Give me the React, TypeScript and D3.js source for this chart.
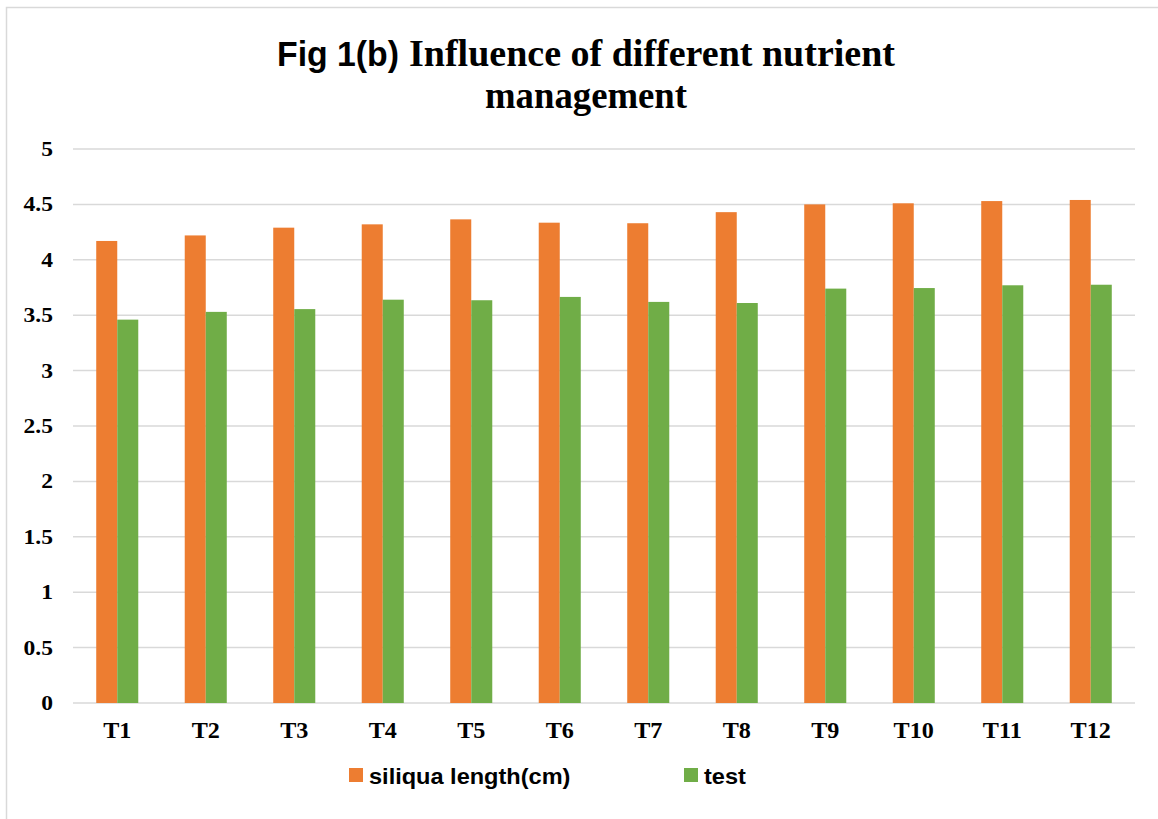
import React, { useEffect, useRef } from 'react';
import * as d3 from 'd3';

const categories = ['T1', 'T2', 'T3', 'T4', 'T5', 'T6', 'T7', 'T8', 'T9', 'T10', 'T11', 'T12'];
const siliquaLength = [4.17, 4.22, 4.29, 4.32, 4.365, 4.335, 4.33, 4.43, 4.5, 4.51, 4.53, 4.54];
const testValues = [3.46, 3.53, 3.555, 3.64, 3.635, 3.665, 3.62, 3.61, 3.74, 3.745, 3.77, 3.775];
const yTicks = [0, 0.5, 1, 1.5, 2, 2.5, 3, 3.5, 4, 4.5, 5];
const seriesNames = ['siliqua length(cm)', 'test'];
const seriesColors = ['#ED7D31', '#70AD47'];

const SERIF = '"Liberation Serif", "Times New Roman", serif';
const SANS = '"Liberation Sans", Arial, sans-serif';

// stretch text horizontally by a factor, keeping its anchor
function stretch(sel: d3.Selection<SVGTextElement, any, any, any>, factor: number) {
  sel.each(function () {
    const len = this.getComputedTextLength();
    d3.select(this)
      .attr('textLength', len * factor)
      .attr('lengthAdjust', 'spacingAndGlyphs');
  });
}

const App: React.FC = () => {
  const svgRef = useRef<SVGSVGElement>(null);

  useEffect(() => {
    if (!svgRef.current) return;

    const width = 1158;
    const height = 819;
    const margin = { top: 149, right: 23, bottom: 116, left: 73 };

    const svg = d3.select(svgRef.current);
    svg.selectAll('*').remove();
    svg.attr('width', width).attr('height', height);

    svg.append('rect').attr('width', width).attr('height', height).attr('fill', '#fff');

    // chart area border (only top / left edges visible in the frame)
    svg
      .append('rect')
      .attr('x', 6.5)
      .attr('y', 7.5)
      .attr('width', width + 20)
      .attr('height', height + 20)
      .attr('fill', 'none')
      .attr('stroke', '#d9d9d9')
      .attr('stroke-width', 1.5);

    const x0 = d3
      .scaleBand<string>()
      .domain(categories)
      .range([margin.left, width - margin.right])
      .paddingInner(0.525)
      .paddingOuter(0.2625);

    const x1 = d3.scaleBand<number>().domain([0, 1]).range([0, x0.bandwidth()]);

    const y = d3
      .scaleLinear()
      .domain([0, 5])
      .range([height - margin.bottom, margin.top]);

    // gridlines
    svg
      .append('g')
      .selectAll('line')
      .data(yTicks)
      .enter()
      .append('line')
      .attr('x1', margin.left)
      .attr('x2', width - margin.right)
      .attr('y1', d => y(d))
      .attr('y2', d => y(d))
      .attr('stroke', '#d9d9d9')
      .attr('stroke-width', 1.5);

    // y labels
    const yLabels = svg
      .append('g')
      .selectAll('text')
      .data(yTicks)
      .enter()
      .append('text')
      .attr('x', 53)
      .attr('y', d => y(d) + 7)
      .attr('text-anchor', 'end')
      .style('font-family', SERIF)
      .style('font-weight', 'bold')
      .style('font-size', '21px')
      .text(d => String(d));
    stretch(yLabels as any, 1.12);

    // bars
    const seriesData = [siliquaLength, testValues];
    const groups = svg
      .append('g')
      .selectAll('g')
      .data(categories)
      .enter()
      .append('g')
      .attr('transform', d => `translate(${x0(d)},0)`);

    groups
      .selectAll('rect')
      .data((_d, i) => seriesData.map((s, k) => ({ k, v: s[i] })))
      .enter()
      .append('rect')
      .attr('x', d => x1(d.k) as number)
      .attr('width', x1.bandwidth())
      .attr('y', d => y(d.v))
      .attr('height', d => y(0) - y(d.v))
      .attr('fill', d => seriesColors[d.k]);

    // x labels
    const xLabels = svg
      .append('g')
      .selectAll('text')
      .data(categories)
      .enter()
      .append('text')
      .attr('x', d => (x0(d) as number) + x0.bandwidth() / 2)
      .attr('y', 738)
      .attr('text-anchor', 'middle')
      .style('font-family', SERIF)
      .style('font-weight', 'bold')
      .style('font-size', '23px')
      .text(d => d);
    stretch(xLabels as any, 1.05);

    // title
    svg
      .append('text')
      .attr('x', 277)
      .attr('y', 66)
      .attr('textLength', 122)
      .attr('lengthAdjust', 'spacingAndGlyphs')
      .style('font-family', SANS)
      .style('font-weight', 'bold')
      .style('font-size', '35px')
      .text('Fig 1(b)');
    svg
      .append('text')
      .attr('x', 409)
      .attr('y', 66)
      .attr('textLength', 486)
      .attr('lengthAdjust', 'spacingAndGlyphs')
      .style('font-family', SERIF)
      .style('font-weight', 'bold')
      .style('font-size', '38px')
      .text('Influence of different nutrient');
    svg
      .append('text')
      .attr('x', 586)
      .attr('y', 108)
      .attr('text-anchor', 'middle')
      .attr('textLength', 202)
      .attr('lengthAdjust', 'spacingAndGlyphs')
      .style('font-family', SERIF)
      .style('font-weight', 'bold')
      .style('font-size', '38px')
      .text('management');

    // legend
    const legendX = [349, 684];
    const legend = svg
      .append('g')
      .selectAll('g')
      .data(seriesNames)
      .enter()
      .append('g')
      .attr('transform', (_d, i) => `translate(${legendX[i]},768)`);
    legend
      .append('rect')
      .attr('width', 14)
      .attr('height', 14)
      .attr('fill', (_d, i) => seriesColors[i]);
    const legendText = legend
      .append('text')
      .attr('x', 20)
      .attr('y', 15.5)
      .style('font-family', SANS)
      .style('font-weight', 'bold')
      .style('font-size', '22px')
      .text(d => d);
    stretch(legendText as any, 1.07);
  }, []);

  return <svg ref={svgRef} style={{ position: 'absolute', left: 0, top: 0 }}></svg>;
};

export default App;
